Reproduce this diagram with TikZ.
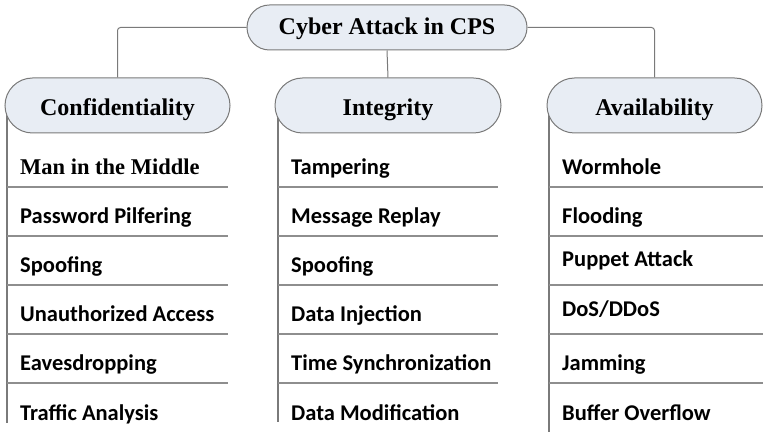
\documentclass[tikz,border=0pt]{standalone}
\usepackage{fontspec}
\setmainfont{Liberation Serif}
\newfontfamily\attackfont{Carlito}
\usetikzlibrary{shapes.misc,backgrounds}
\definecolor{pillblue}{HTML}{E8EDF4}
\definecolor{linegray}{HTML}{7A7A7A}
\definecolor{rulegray}{HTML}{8E8E8E}

\begin{document}
\begin{tikzpicture}[x=1bp,y=-1bp,
	pill/.style={draw=linegray,fill=pillblue,rounded rectangle,line width=1bp,
		minimum height=55bp,inner sep=0pt,text height=20bp,text depth=0bp,
		font=\fontsize{24bp}{28bp}\selectfont\bfseries},
	attack/.style={anchor=base west,inner sep=0pt,
		font=\fontsize{22.5bp}{27bp}\selectfont\attackfont\bfseries},
	seriefattack/.style={anchor=base west,inner sep=0pt,
		font=\fontsize{22.5bp}{27bp}\selectfont\bfseries},
	link/.style={draw=linegray,line width=1bp,rounded corners=3bp},
	spine/.style={draw=linegray,line width=1.2bp},
	rowline/.style={draw=rulegray,line width=1.2bp}]
		\useasboundingbox (0,0) rectangle (763,433);

		% Root and the three goals
		\node[pill,minimum width=280bp,minimum height=45bp,text height=16bp,text depth=1bp] (root) at (387,27.5) {Cyber Attack in CPS};
		\node[pill,minimum width=225bp] (conf) at (117.5,105.5) {Confidentiality};
		\node[pill,minimum width=226bp] (integ) at (388,105.5) {Integrity};
		\node[pill,minimum width=215bp] (avail) at (654.5,105.5) {Availability};

		% Connectors from the root
		\draw[link] (root.west) -| (conf.north);
		\draw[link] (root.south) -- (integ.north);
		\draw[link] (root.east) -| (avail.north);

		% Confidentiality attacks
		\node[seriefattack] (c1) at (20,175) {Man in the Middle};
		\foreach \k/\txt in {2/Password Pilfering, 3/Spoofing, 4/Unauthorized Access, 5/Eavesdropping, 6/Traffic Analysis}
			\node[attack] (c\k) at (20,{175+49*(\k-1)}) {\txt};

		% Integrity attacks
		\foreach \k/\txt in {1/Tampering, 2/Message Replay, 3/Spoofing, 4/Data Injection, 5/Time Synchronization, 6/Data Modification}
			\node[attack] (i\k) at (291,{175+49*(\k-1)}) {\txt};

		% Availability attacks
		\foreach \k/\dy/\txt in {1/0/Wormhole, 2/0/Flooding, 3/-6/Puppet Attack, 4/-5/{DoS/DDoS}, 5/0/Jamming, 6/0/Buffer Overflow}
			\node[attack] (a\k) at (562,{175+49*(\k-1)+\dy}) {\txt};

		% Spines and row lines behind the goals
		\begin{scope}[on background layer]
			\foreach \x/\w/\b in {7/228/423, 278/498/422, 549/763/432} {
				\draw[spine] (\x,105) -- (\x,\b);
				\foreach \k in {1,...,5}
					\draw[rowline] (\x,{187+49*(\k-1)}) -- (\w,{187+49*(\k-1)});
			}
		\end{scope}
	\end{tikzpicture}
\end{document}
